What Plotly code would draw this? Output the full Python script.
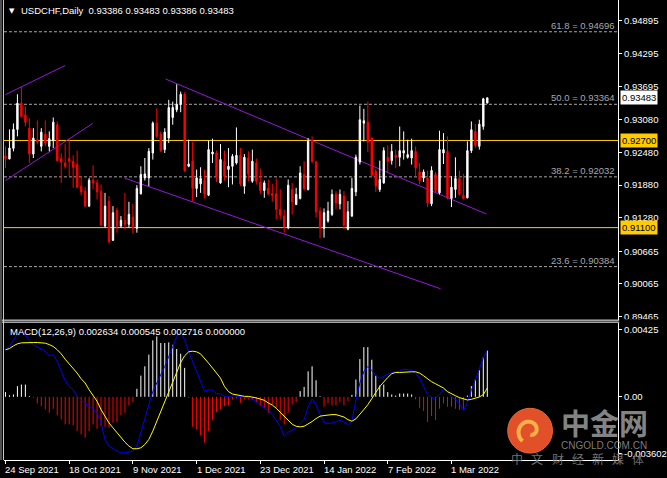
import plotly.graph_objects as go
import numpy as np

# ---------------- DATA ----------------
symbol_title = "USDCHF,Daily"
opens = [0.92409,0.92360,0.92555,0.92903,0.93383,0.93171,0.92926,0.92451,0.92714,0.92592,
         0.92817,0.92592,0.92696,0.92989,0.92367,0.92287,0.92367,0.92318,0.92257,0.91861,
         0.91769,0.91495,0.91970,0.91921,0.91769,0.91129,0.91586,0.90868,0.91416,0.91129,
         0.91234,0.91160,0.91294,0.91087,0.91720,0.92012,0.92012,0.92469,0.93018,0.92817,
         0.92532,0.92744,0.93122,0.93263,0.93365,0.93548,0.92226,0.92318,0.91819,0.91903,
         0.91965,0.91696,0.92451,0.92469,0.91921,0.92318,0.92166,0.92226,0.92287,0.92427,
         0.91861,0.92378,0.91952,0.92287,0.91934,0.91782,0.91819,0.91720,0.91720,0.91435,
         0.91312,0.91098,0.91800,0.91526,0.91636,0.92075,0.91800,0.92696,0.92305,0.91404,
         0.91087,0.91221,0.91343,0.91709,0.91537,0.91678,0.91069,0.91312,0.91756,0.92305,
         0.93018,0.93036,0.92744,0.92135,0.91800,0.91921,0.92391,0.92330,0.92427,0.92391,
         0.92469,0.92391,0.92378,0.92500,0.92122,0.92012,0.92012,0.91537,0.92075,0.91738,
         0.92469,0.92500,0.91636,0.91800,0.92001,0.91696,0.91647,0.92513,0.92866,0.92592,
         0.92957,0.93386]
highs = [0.92592,0.92903,0.93012,0.93548,0.93689,0.93323,0.93109,0.92926,0.93067,0.92926,
         0.93067,0.92866,0.93122,0.93049,0.92469,0.92634,0.92733,0.92427,0.92513,0.92043,
         0.91842,0.92012,0.92245,0.91983,0.91892,0.91738,0.91678,0.91495,0.91464,0.91312,
         0.91738,0.91574,0.91537,0.91879,0.92226,0.92378,0.92561,0.93049,0.93292,0.92866,
         0.92926,0.93446,0.93414,0.93731,0.93597,0.93584,0.92714,0.92670,0.92166,0.92208,
         0.92166,0.92696,0.92733,0.92513,0.92634,0.92513,0.92561,0.92451,0.92939,0.92561,
         0.92451,0.92500,0.92532,0.92367,0.92184,0.91965,0.91983,0.91903,0.92001,0.91800,
         0.91435,0.91983,0.91921,0.91830,0.92226,0.92318,0.92744,0.92775,0.92330,0.91477,
         0.91453,0.91574,0.91800,0.91769,0.91800,0.91769,0.91586,0.92012,0.92440,0.93341,
         0.93281,0.93414,0.92757,0.92184,0.92330,0.92574,0.92610,0.92634,0.92532,0.92957,
         0.92866,0.92714,0.92733,0.92592,0.92287,0.92166,0.92148,0.92226,0.92122,0.92879,
         0.92835,0.92775,0.92043,0.92391,0.92148,0.92085,0.92683,0.93049,0.93000,0.93080,
         0.93483,0.93483]
lows = [0.92190,0.92354,0.92500,0.92775,0.93122,0.92957,0.92287,0.92378,0.92628,0.92500,
        0.92592,0.92500,0.92561,0.92318,0.91921,0.92184,0.92043,0.91830,0.91830,0.91696,
        0.91477,0.91477,0.91800,0.91617,0.91129,0.91098,0.90806,0.90855,0.91007,0.91098,
        0.91069,0.91098,0.90989,0.91007,0.91709,0.91965,0.91861,0.92349,0.92744,0.92488,
        0.92469,0.92652,0.92989,0.93219,0.93219,0.92122,0.92208,0.91574,0.91660,0.91738,
        0.91636,0.91678,0.92287,0.91939,0.91903,0.91965,0.91842,0.91892,0.92257,0.91861,
        0.91720,0.91952,0.91921,0.91892,0.91720,0.91647,0.91696,0.91574,0.91252,0.91252,
        0.91007,0.91069,0.91343,0.91513,0.91617,0.91782,0.91782,0.92287,0.91281,0.90905,
        0.90916,0.91190,0.91312,0.91435,0.91435,0.91069,0.91051,0.91294,0.91678,0.92257,
        0.92683,0.92488,0.92043,0.91756,0.91756,0.91903,0.92122,0.92257,0.92195,0.92226,
        0.92349,0.92367,0.92257,0.92043,0.91892,0.91939,0.91477,0.91495,0.91738,0.91709,
        0.92268,0.91617,0.91477,0.91647,0.91696,0.91617,0.91636,0.92469,0.92561,0.92532,
        0.92897,0.93386]
closes = [0.92372,0.92561,0.92903,0.93383,0.93140,0.93036,0.92451,0.92744,0.92670,0.92853,
          0.92652,0.92733,0.93036,0.92330,0.92305,0.92226,0.92318,0.92208,0.91842,0.91756,
          0.91495,0.91970,0.91921,0.91756,0.91148,0.91495,0.90842,0.91373,0.91129,0.91234,
          0.91160,0.91343,0.91087,0.91819,0.92075,0.92085,0.92500,0.93018,0.92775,0.92513,
          0.92853,0.93305,0.93305,0.93365,0.93548,0.92148,0.92268,0.91819,0.92012,0.92001,
          0.91720,0.92532,0.92488,0.92043,0.92349,0.92043,0.92226,0.92409,0.92427,0.91903,
          0.92391,0.92085,0.92318,0.91952,0.91782,0.91921,0.91720,0.91696,0.91435,0.91331,
          0.91111,0.91879,0.91574,0.91709,0.92104,0.91819,0.92683,0.92318,0.91391,0.91087,
          0.91373,0.91404,0.91709,0.91555,0.91709,0.91148,0.91391,0.91819,0.92391,0.93080,
          0.93062,0.92670,0.92062,0.91861,0.91983,0.92513,0.92318,0.92500,0.92391,0.92513,
          0.92513,0.92440,0.92513,0.92195,0.91965,0.92122,0.91555,0.92148,0.91782,0.92532,
          0.92532,0.91647,0.91842,0.92001,0.91709,0.91636,0.92513,0.92897,0.92610,0.93000,
          0.93464,0.93483]

macd_hist = [0.00030,0.00010,0.00015,0.00068,0.00078,0.00078,0.00005,-0.00006,-0.00042,-0.00059,
             -0.00080,-0.00101,-0.00076,-0.00118,-0.00143,-0.00175,-0.00175,-0.00181,-0.00217,-0.00238,
             -0.00259,-0.00217,-0.00175,-0.00203,-0.00186,-0.00190,-0.00196,-0.00165,-0.00160,-0.00118,
             -0.00101,-0.00055,-0.00034,0.00051,0.00135,0.00194,0.00268,0.00359,0.00384,0.00342,
             0.00342,0.00346,0.00331,0.00304,0.00274,0.00184,-0.00006,-0.00190,-0.00207,-0.00245,
             -0.00291,-0.00217,-0.00148,-0.00097,-0.00080,-0.00059,-0.00055,-0.00017,-0.00008,-0.00038,
             -0.00017,-0.00017,-0.00020,-0.00034,-0.00059,-0.00070,-0.00101,-0.00049,-0.00070,-0.00148,
             -0.00175,-0.00101,-0.00049,-0.00034,0.00036,0.00063,0.00162,0.00194,0.00105,0.00004,
             -0.00063,-0.00042,-0.00055,-0.00055,-0.00034,-0.00055,-0.00027,0.00013,0.00110,0.00240,
             0.00316,0.00316,0.00236,0.00135,0.00072,0.00078,0.00030,0.00015,0.00008,0.00021,
             0.00021,0.00021,0.00015,-0.00017,-0.00070,-0.00090,-0.00160,-0.00122,-0.00148,-0.00075,
             -0.00042,-0.00063,-0.00063,-0.00076,-0.00084,-0.00076,0.00008,0.00068,0.00110,0.00169,
             0.00253,0.00295]
macd_main = [0.00299,0.00320,0.00362,0.00400,0.00415,0.00394,0.00358,0.00330,0.00315,0.00305,
             0.00288,0.00261,0.00267,0.00225,0.00161,0.00104,0.00066,0.00045,0.00003,-0.00022,
             -0.00043,-0.00060,-0.00081,-0.00098,-0.00166,-0.00271,-0.00313,-0.00330,-0.00345,-0.00356,
             -0.00356,-0.00351,-0.00345,-0.00313,-0.00229,-0.00145,-0.00050,0.00035,0.00088,0.00140,
             0.00193,0.00256,0.00320,0.00383,0.00415,0.00362,0.00288,0.00225,0.00161,0.00109,
             0.00035,0.00045,0.00041,0.00020,0.00020,0.00003,-0.00001,0.00007,0.00003,0.00001,
             -0.00001,-0.00005,-0.00014,-0.00035,-0.00052,-0.00071,-0.00088,-0.00113,-0.00149,-0.00187,
             -0.00250,-0.00225,-0.00212,-0.00197,-0.00170,-0.00145,-0.00064,-0.00014,-0.00050,-0.00113,
             -0.00161,-0.00170,-0.00166,-0.00155,-0.00149,-0.00161,-0.00176,-0.00155,-0.00018,0.00088,
             0.00161,0.00193,0.00168,0.00134,0.00119,0.00130,0.00145,0.00153,0.00157,0.00164,
             0.00176,0.00172,0.00168,0.00151,0.00119,0.00066,0.00014,-0.00007,-0.00009,0.00014,
             0.00050,0.00035,-0.00001,-0.00018,-0.00043,-0.00088,-0.00035,0.00041,0.00109,0.00172,
             0.00246,0.00299]
macd_signal = [0.00299,0.00307,0.00324,0.00337,0.00343,0.00345,0.00345,0.00345,0.00345,0.00343,
               0.00341,0.00332,0.00320,0.00299,0.00273,0.00239,0.00210,0.00183,0.00151,0.00115,
               0.00088,0.00045,0.00007,-0.00028,-0.00081,-0.00123,-0.00166,-0.00197,-0.00229,-0.00254,
               -0.00288,-0.00313,-0.00330,-0.00330,-0.00324,-0.00303,-0.00271,-0.00218,-0.00155,-0.00102,
               -0.00039,0.00028,0.00098,0.00161,0.00218,0.00261,0.00286,0.00290,0.00286,0.00273,
               0.00246,0.00214,0.00183,0.00151,0.00119,0.00066,0.00033,0.00018,0.00012,0.00007,
               0.00003,0.00003,-0.00001,-0.00007,-0.00014,-0.00022,-0.00039,-0.00052,-0.00073,-0.00098,
               -0.00123,-0.00149,-0.00174,-0.00187,-0.00191,-0.00187,-0.00174,-0.00157,-0.00138,-0.00123,
               -0.00119,-0.00115,-0.00113,-0.00113,-0.00119,-0.00128,-0.00145,-0.00155,-0.00140,-0.00113,
               -0.00081,-0.00050,-0.00007,0.00028,0.00066,0.00098,0.00123,0.00147,0.00155,0.00155,
               0.00157,0.00161,0.00159,0.00159,0.00151,0.00134,0.00113,0.00096,0.00083,0.00071,
               0.00056,0.00033,0.00018,0.00007,-0.00005,-0.00014,-0.00020,-0.00016,-0.00009,-0.00001,
               0.00014,0.00056]
macd_title_vals = [0.002634, 0.000545, 0.002716, 0.000000]

date_tick_idx = [0, 16, 32, 48, 64, 80, 96, 112]
date_tick_labels = ["24 Sep 2021", "18 Oct 2021", "9 Nov 2021", "1 Dec 2021",
                    "23 Dec 2021", "14 Jan 2022", "7 Feb 2022", "1 Mar 2022"]
price_ticks = [0.94895, 0.94295, 0.93695, 0.93080, 0.92480, 0.91880,
               0.91280, 0.90665, 0.90065, 0.89465]
macd_ticks = [0.00425, 0.0, -0.003602]
macd_tick_text = ["0.00425", "0.00", "-0.003602"]

fib_levels = [61.8, 50.0, 38.2, 23.6]
fib_prices = [0.94696, 0.93364, 0.92032, 0.90384]
hline_prices = [0.92700, 0.91100]

# trend lines (bar index, price)
trend_x0 = [0.0, 0.0, 40.2, 30.0]
trend_y0 = [0.93542, 0.91965, 0.93829, 0.92007]
trend_x1 = [15.0, 21.9, 120.8, 109.25]
trend_y1 = [0.94078, 0.93012, 0.91349, 0.89978]

# ---------------- LAYOUT GEOMETRY ----------------
W, H = 667, 478
X_L, X_R = 4, 621
MAIN_T, MAIN_B = 0, 321
MACD_T, MACD_B = 324, 462
FONT = "Liberation Sans, Arial, sans-serif"
CJK = "Noto Sans CJK SC"
FIBC = "#a8a8a8"
YEL = "#ffcc00"
PURP = "#9418d8"


def fx(px):
    return px / W


def fy(py):
    return 1 - py / H


idx = list(range(len(opens)))
xr = [-0.375, -0.375 + (X_R - X_L) / 4.0]   # 4 px per bar

fig = go.Figure()

fig.add_trace(go.Candlestick(
    x=idx, open=opens, high=highs, low=lows, close=closes,
    increasing=dict(line=dict(color="white", width=1), fillcolor="white"),
    decreasing=dict(line=dict(color="#ff0000", width=1), fillcolor="#ff0000"),
    whiskerwidth=0, xaxis="x", yaxis="y", showlegend=False, hoverinfo="skip"))

# histogram as 1px sticks (white positive, red negative)
for positive, col in ((True, "white"), (False, "#ff0000")):
    hx, hy = [], []
    for i, v in zip(idx, macd_hist):
        if (v >= 0) == positive:
            hx += [i, i, None]
            hy += [0, v, None]
    fig.add_trace(go.Scatter(x=hx, y=hy, mode="lines", line=dict(color=col, width=1),
                             xaxis="x2", yaxis="y2", showlegend=False, hoverinfo="skip"))
fig.add_trace(go.Scatter(x=idx, y=macd_main, mode="lines", line=dict(color="#0000ff", width=1),
                         xaxis="x2", yaxis="y2", showlegend=False, hoverinfo="skip"))
fig.add_trace(go.Scatter(x=idx, y=macd_signal, mode="lines", line=dict(color="#ffff00", width=1),
                         xaxis="x2", yaxis="y2", showlegend=False, hoverinfo="skip"))

shapes = []
annotations = []

# fib levels
for lvl, p in zip(fib_levels, fib_prices):
    shapes.append(dict(type="line", xref="x domain", yref="y", x0=0, x1=1, y0=p, y1=p,
                       line=dict(color=FIBC, width=1, dash="3px,2px"), layer="below"))
    annotations.append(dict(xref="paper", yref="y", x=fx(620), y=p, xanchor="right", yanchor="bottom",
                            text=f"{lvl:.1f} = {p:.5f}", showarrow=False, yshift=-1,
                            font=dict(family=FONT, size=9.5, color=FIBC)))
# horizontal yellow lines
for p in hline_prices:
    shapes.append(dict(type="line", xref="x domain", yref="y", x0=0, x1=1, y0=p, y1=p,
                       line=dict(color=YEL, width=1), layer="below"))
    annotations.append(dict(xref="paper", yref="y", x=fx(622.5), y=p, xanchor="left", yanchor="middle",
                            text=f"{p:.5f}", showarrow=False, bgcolor=YEL, borderpad=1,
                            font=dict(family=FONT, size=9.5, color="black")))
# trend lines
for a, b, c, d in zip(trend_x0, trend_y0, trend_x1, trend_y1):
    shapes.append(dict(type="line", xref="x", yref="y", x0=a, y0=b, x1=c, y1=d,
                       line=dict(color=PURP, width=1), layer="below"))

# last price label
annotations.append(dict(xref="paper", yref="y", x=fx(622.5), y=closes[-1], xanchor="left", yanchor="middle",
                        text=f"{closes[-1]:.5f}", showarrow=False, bgcolor="white", borderpad=1,
                        font=dict(family=FONT, size=9.5, color="black")))

# panel borders
shapes.append(dict(type="rect", xref="paper", yref="paper", x0=fx(622), x1=1, y0=fy(326), y1=fy(320.5),
                   fillcolor="black", line=dict(width=0), layer="above"))
for py in (321.5, 323.5):
    shapes.append(dict(type="line", xref="paper", yref="paper", x0=fx(0), x1=fx(622), y0=fy(py), y1=fy(py),
                       line=dict(color="white", width=1), layer="above"))
shapes.append(dict(type="line", xref="paper", yref="paper", x0=fx(3.5), x1=fx(3.5), y0=fy(0), y1=fy(462),
                   line=dict(color="#d0d0d0", width=1), layer="above"))
shapes.append(dict(type="line", xref="paper", yref="paper", x0=fx(1), x1=fx(1), y0=fy(0), y1=fy(462),
                   line=dict(color="#505050", width=2), layer="above"))

# title texts
annotations.append(dict(xref="paper", yref="paper", x=fx(7), y=fy(11), xanchor="left", yanchor="middle",
                        text="▼", showarrow=False, font=dict(family="DejaVu Sans", size=7, color="white")))
annotations.append(dict(xref="paper", yref="paper", x=fx(19), y=fy(11), xanchor="left", yanchor="middle",
                        text=f"{symbol_title}  {opens[-1]:.5f} {highs[-1]:.5f} {lows[-1]:.5f} {closes[-1]:.5f}",
                        showarrow=False, font=dict(family=FONT, size=9.5, color="white")))
annotations.append(dict(xref="paper", yref="paper", x=fx(8), y=fy(333), xanchor="left", yanchor="middle",
                        text="MACD(12,26,9) " + " ".join(f"{v:.6f}" for v in macd_title_vals),
                        showarrow=False, font=dict(family=FONT, size=9.5, color="white")))

# date labels
for i, lab in zip(date_tick_idx, date_tick_labels):
    annotations.append(dict(xref="x2", yref="paper", x=i, y=fy(471), xanchor="left", yanchor="middle",
                            text=lab, showarrow=False, xshift=-2,
                            font=dict(family=FONT, size=9.5, color="white")))

# watermark
shapes.append(dict(type="circle", xref="paper", yref="paper", x0=fx(510), x1=fx(555), y0=fy(455), y1=fy(410),
                   fillcolor="#e2502a", line=dict(color="#e86a30", width=1), layer="above"))
cx, cy = 532.5, 432.5
t = np.linspace(0, 1, 40)
ang = 2.2 + t * 5.6
rad = 13 - t * 9
pts = [(fx(cx + r * np.cos(a)), fy(cy + r * np.sin(a))) for a, r in zip(ang, rad)]
path = "M " + " L ".join(f"{x:.5f},{y:.5f}" for x, y in pts)
shapes.append(dict(type="path", xref="paper", yref="paper", path=path,
                   line=dict(color="#f7b04a", width=4), layer="above"))
annotations.append(dict(xref="paper", yref="paper", x=fx(607), y=fy(424), xanchor="center", yanchor="middle",
                        text="<b>中金网</b>", showarrow=False, borderpad=0,
                        font=dict(family=CJK, size=29, color="rgba(150,150,150,0.9)")))
annotations.append(dict(xref="paper", yref="paper", x=fx(607), y=fy(447), xanchor="center", yanchor="middle",
                        text="CNGOLD.COM.CN", showarrow=False, borderpad=0,
                        font=dict(family=FONT, size=10, color="rgba(140,140,140,0.9)")))
for k, ch in enumerate("中文财经新媒体"):
    annotations.append(dict(xref="paper", yref="paper", x=fx(519.5 + k * 20.3), y=fy(460),
                            xanchor="center", yanchor="middle", text=ch, showarrow=False, borderpad=0,
                            font=dict(family=CJK, size=12, color="rgba(130,130,130,0.9)")))

fig.update_layout(
    width=W, height=H, margin=dict(l=0, r=0, t=0, b=0),
    paper_bgcolor="black", plot_bgcolor="black", showlegend=False, boxgap=0.5,
    xaxis=dict(domain=[fx(X_L), fx(X_R)], range=xr, anchor="y", showgrid=False, zeroline=False,
               showticklabels=False, ticks="", showline=False, rangeslider=dict(visible=False), fixedrange=True),
    yaxis=dict(domain=[fy(MAIN_B), fy(MAIN_T)], range=[0.89410, 0.95279], anchor="x", side="right",
               showgrid=False, zeroline=False, showline=True, linecolor="white", linewidth=1,
               ticks="outside", ticklen=3, tickcolor="white", tickvals=price_ticks,
               ticktext=[f"{v:.5f}" for v in price_ticks],
               tickfont=dict(family=FONT, size=9.5, color="white"), fixedrange=True),
    xaxis2=dict(domain=[fx(X_L), fx(X_R)], range=xr, anchor="y2", showgrid=False, zeroline=False,
                showticklabels=False, showline=True, linecolor="white", linewidth=1,
                ticks="outside", ticklen=3, tickcolor="white", tickvals=date_tick_idx, fixedrange=True),
    yaxis2=dict(domain=[fy(MACD_B), fy(MACD_T)], range=[-0.004019, 0.004715], anchor="x2", side="right",
                showgrid=False, zeroline=False, showline=True, linecolor="white", linewidth=1,
                ticks="outside", ticklen=3, tickcolor="white", tickvals=macd_ticks, ticktext=macd_tick_text,
                tickfont=dict(family=FONT, size=9.5, color="white"), fixedrange=True),
    shapes=shapes, annotations=annotations,
)

fig.write_html("out.html")
